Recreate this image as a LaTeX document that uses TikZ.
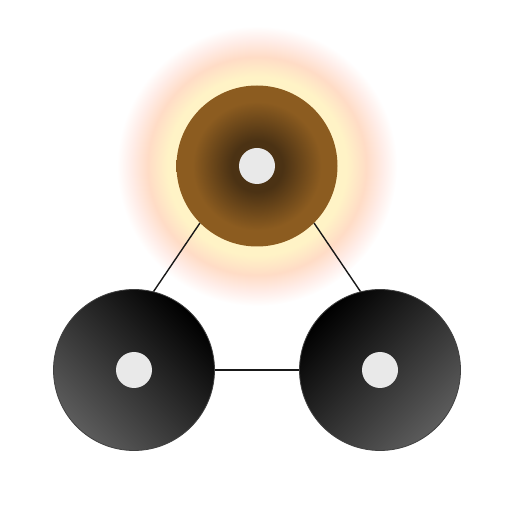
\documentclass[tikz,border=0pt]{standalone}
\usepackage{tikz}

\definecolor{coredark}{HTML}{4B3214}
\definecolor{corelight}{HTML}{8C5C20}
\definecolor{haloyellow}{HTML}{FFF3C6}
\definecolor{halopeach}{HTML}{FFDCC6}
\definecolor{halopink}{HTML}{FFEDE8}
\definecolor{discgray}{HTML}{5C5C5C}
\definecolor{dotwhite}{HTML}{E9E9E9}

\pgfdeclareradialshading{coreshade}{\pgfpoint{0bp}{0bp}}{color(0bp)=(coredark); color(8bp)=(coredark); color(20bp)=(corelight); color(25bp)=(corelight); color(50bp)=(corelight)}
\pgfdeclareradialshading{haloshade}{\pgfpoint{0bp}{0bp}}{color(0bp)=(haloyellow); color(16bp)=(haloyellow); color(19.5bp)=(halopeach); color(22.5bp)=(halopink); color(25bp)=(white); color(50bp)=(white)}

\begin{document}
\begin{tikzpicture}[x=1pt,y=1pt,
            disc/.style={circle, minimum size=161pt, inner sep=0pt},
            core/.style={disc, shading=coreshade},
            dark/.style={disc, top color=black, bottom color=discgray, draw=black!75, line width=0.8pt},
            dot/.style={circle, minimum size=36pt, inner sep=0pt, fill=dotwhite},
            bond/.style={draw=black!90, line width=1.4pt}]
            \useasboundingbox (0,0) rectangle (512,512);
            % glow behind the top atom
            \node[circle, minimum size=280pt, inner sep=0pt, shading=haloshade] (halo) at (257,346) {};
            \node[core] (top) at (257,346) {};
            \node[dark, shading angle=-45] (left) at (134,142) {};
            \node[dark, shading angle=45] (right) at (380,142) {};
            \draw[bond] (top.225) -- (left.76);
            \draw[bond] (top.315) -- (right.104);
            \draw[bond] (left.east) -- (right.west);
            \node[dot] (topdot) at (top) {};
            \node[dot] (leftdot) at (left) {};
            \node[dot] (rightdot) at (right) {};
\end{tikzpicture}
\end{document}
